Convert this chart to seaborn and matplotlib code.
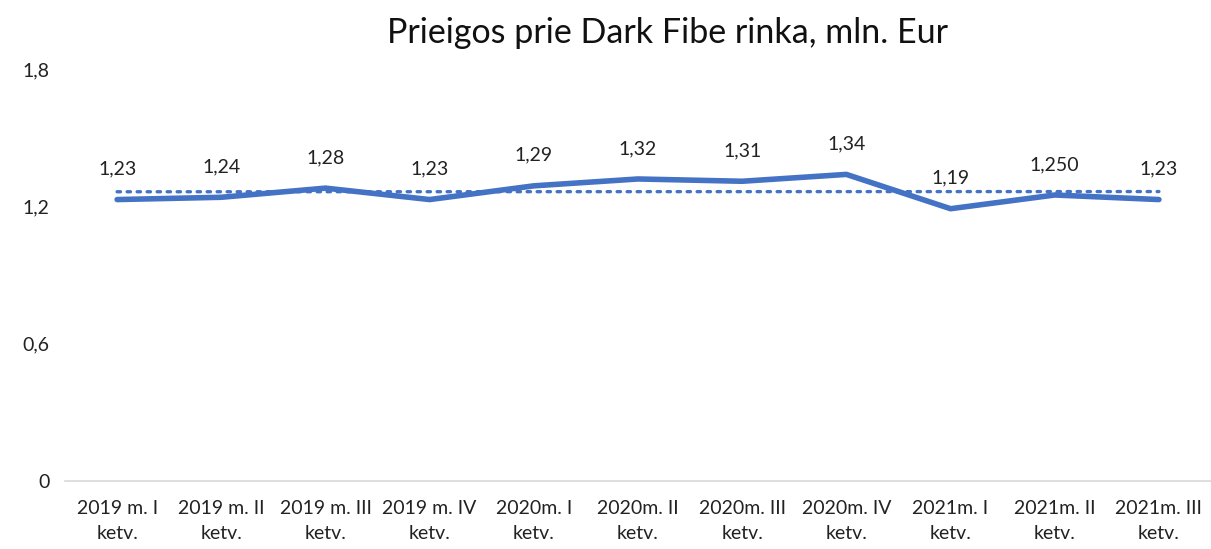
import numpy as np
import pandas as pd
import matplotlib
matplotlib.use("Agg")
import matplotlib.pyplot as plt
import seaborn as sns

quarters = [
    "2019 m. I\nketv.", "2019 m. II\nketv.", "2019 m. III\nketv.", "2019 m. IV\nketv.",
    "2020m. I\nketv.", "2020m. II\nketv.", "2020m. III\nketv.", "2020m. IV\nketv.",
    "2021m. I\nketv.", "2021m. II\nketv.", "2021m. III\nketv.",
]
values = [1.23, 1.24, 1.28, 1.23, 1.29, 1.32, 1.31, 1.34, 1.19, 1.25, 1.23]
value_labels = ["1,23", "1,24", "1,28", "1,23", "1,29", "1,32", "1,31", "1,34", "1,19", "1,250", "1,23"]
ytick_vals = [0, 0.6, 1.2, 1.8]
ytick_labels = ["0", "0,6", "1,2", "1,8"]

df = pd.DataFrame({"x": np.arange(len(quarters)), "value": values})

sns.set_theme(style="white")
plt.rcParams["font.family"] = ["Lato", "DejaVu Sans"]

fig = plt.figure(figsize=(12.11, 5.49), dpi=100)
ax = fig.add_axes([0.0537, 0.124, 0.9463, 0.750])

blue = "#4472C4"
# linear trend line (dotted)
sns.regplot(data=df, x="x", y="value", scatter=False, ci=None, ax=ax, truncate=True,
            line_kws=dict(color=blue, lw=2.4, ls=(0, (1, 2.0)), dash_capstyle="round"))
sns.lineplot(data=df, x="x", y="value", ax=ax, color=blue, lw=4, solid_capstyle="round")

for xi, v, lab in zip(df["x"], values, value_labels):
    ax.annotate(lab, (xi, v), xytext=(0, 22), textcoords="offset points",
                ha="center", va="center", fontsize=14, color="#222222")

ax.set_xlim(-0.5, len(quarters) - 0.5)
ax.set_ylim(0, 1.8)
ax.set_xticks(df["x"])
ax.set_xticklabels(quarters, fontsize=14, color="#222222", linespacing=1.55)
ax.set_yticks(ytick_vals)
ax.set_yticklabels(ytick_labels, fontsize=14, color="#222222")
ax.tick_params(axis="x", length=0, pad=14)
ax.tick_params(axis="y", length=0, pad=11)
ax.set_xlabel("")
ax.set_ylabel("")
for s in ["top", "right", "left"]:
    ax.spines[s].set_visible(False)
ax.spines["bottom"].set_color("#d9d9d9")
ax.spines["bottom"].set_linewidth(1.2)

fig.text(0.551, 0.940, "Prieigos prie Dark Fibe rinka, mln. Eur", ha="center", va="center",
         fontsize=24.5, color="#111111")

fig.savefig("out.png", dpi=100)
